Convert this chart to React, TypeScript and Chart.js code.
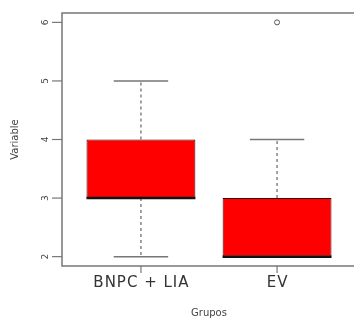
import React, { useEffect, useRef } from "react";
import { Chart, registerables } from "chart.js";

Chart.register(...registerables);

const categories = ["BNPC + LIA", "EV"];
const mins = [2, 2];
const q1s = [3, 2];
const medians = [3, 2];
const q3s = [4, 3];
const maxs = [5, 4];
const outliers = [{ group: 1, value: 6 }];
const yTicks = [2, 3, 4, 5, 6];
const xTitle = "Grupos";
const yTitle = "Variable";

const BOX_HALF = 0.4;
const CAP_HALF = 0.2;
const FONT = "'DejaVu Sans', sans-serif";

export default function App() {
  const ref = useRef<HTMLCanvasElement | null>(null);

  useEffect(() => {
    if (!ref.current) return;
    const pos = categories.map((_, i) => i + 1);

    const boxData = pos.map((x, i) => ({ x, y: [q1s[i], q3s[i]] }));
    const medianData: any[] = [];
    const capData: any[] = [];
    const whiskerData: any[] = [];
    pos.forEach((x, i) => {
      medianData.push({ x: x - BOX_HALF, y: medians[i] }, { x: x + BOX_HALF, y: medians[i] }, { x: x + 0.5, y: null });
      capData.push({ x: x - CAP_HALF, y: maxs[i] }, { x: x + CAP_HALF, y: maxs[i] }, { x: x + 0.3, y: null });
      capData.push({ x: x - CAP_HALF, y: mins[i] }, { x: x + CAP_HALF, y: mins[i] }, { x: x + 0.35, y: null });
      if (maxs[i] > q3s[i]) whiskerData.push({ x, y: q3s[i] }, { x, y: maxs[i] }, { x: x + 0.01, y: null });
      if (mins[i] < q1s[i]) whiskerData.push({ x, y: q1s[i] }, { x, y: mins[i] }, { x: x + 0.02, y: null });
    });
    const outlierData = outliers.map((o) => ({ x: o.group + 1, y: o.value }));

    const axesPlugin = {
      id: "rAxes",
      afterDraw(chart: any) {
        const { ctx, chartArea: a, scales } = chart;
        const xs = scales.x;
        const ys = scales.y;
        ctx.save();
        ctx.strokeStyle = "#777";
        ctx.lineWidth = 1.5;
        ctx.beginPath();
        ctx.moveTo(a.right, a.top);
        ctx.lineTo(a.left, a.top);
        ctx.lineTo(a.left, a.bottom);
        ctx.lineTo(a.right, a.bottom);
        ctx.stroke();
        ctx.lineWidth = 1.2;
        ctx.fillStyle = "#444";
        ctx.font = `9px ${FONT}`;
        ctx.textAlign = "center";
        ctx.textBaseline = "middle";
        yTicks.forEach((v) => {
          const py = ys.getPixelForValue(v);
          ctx.beginPath();
          ctx.moveTo(a.left - 10, py);
          ctx.lineTo(a.left, py);
          ctx.stroke();
          ctx.save();
          ctx.translate(a.left - 16, py);
          ctx.rotate(-Math.PI / 2);
          ctx.fillText(String(v), 0, 0);
          ctx.restore();
        });
        ctx.fillStyle = "#333";
        ctx.font = `15px ${FONT}`;
        (ctx as any).letterSpacing = "1px";
        categories.forEach((c, i) => {
          const px = xs.getPixelForValue(i + 1);
          ctx.beginPath();
          ctx.moveTo(px, a.bottom);
          ctx.lineTo(px, a.bottom + 7);
          ctx.stroke();
          ctx.fillText(c, px + 0.5, a.bottom + 17);
        });
        (ctx as any).letterSpacing = "0px";
        ctx.font = `10px ${FONT}`;
        ctx.fillStyle = "#444";
        ctx.fillText(xTitle, (a.left + a.right) / 2, a.bottom + 47);
        ctx.save();
        ctx.translate(15, (a.top + a.bottom) / 2);
        ctx.rotate(-Math.PI / 2);
        ctx.fillText(yTitle, 0, 0);
        ctx.restore();
        ctx.restore();
      },
    };

    const chart = new Chart(ref.current, {
      type: "bar",
      data: {
        datasets: [
          {
            type: "line",
            data: medianData,
            borderColor: "#111",
            borderWidth: 2.5,
            pointRadius: 0,
            spanGaps: false,
            order: 1,
          } as any,
          {
            type: "scatter",
            data: outlierData,
            pointStyle: "circle",
            pointRadius: 2.5,
            pointBackgroundColor: "rgba(0,0,0,0)",
            pointBorderColor: "#555",
            pointBorderWidth: 1,
            order: 2,
          } as any,
          {
            type: "line",
            data: capData,
            borderColor: "#777",
            borderWidth: 1.5,
            pointRadius: 0,
            spanGaps: false,
            order: 3,
          } as any,
          {
            type: "line",
            data: whiskerData,
            borderColor: "#666",
            borderWidth: 1.2,
            borderDash: [3, 3],
            pointRadius: 0,
            spanGaps: false,
            order: 4,
          } as any,
          {
            type: "bar",
            data: boxData,
            backgroundColor: "#ff0000",
            borderColor: "#3a0000",
            borderWidth: 1,
            borderSkipped: false,
            barPercentage: BOX_HALF * 2,
            categoryPercentage: 1,
            order: 5,
          } as any,
        ],
      },
      options: {
        animation: false,
        responsive: false,
        layout: { padding: { left: 62, top: 13, right: 14, bottom: 54 } },
        plugins: { legend: { display: false }, tooltip: { enabled: false } },
        scales: {
          x: {
            type: "linear",
            min: 0.42,
            max: 2.58,
            offset: false,
            display: false,
            afterBuildTicks: (scale: any) => {
              scale.ticks = categories.map((_, i) => ({ value: i + 1 }));
            },
          },
          y: { type: "linear", min: 1.84, max: 6.16, beginAtZero: false, display: false },
        },
      },
      plugins: [axesPlugin],
    });
    return () => chart.destroy();
  }, []);

  return (
    <div style={{ position: "fixed", left: 0, top: 0, width: 354, height: 320, overflow: "hidden", background: "#fff" }}>
      <canvas ref={ref} width={370} height={320} style={{ display: "block" }} />
    </div>
  );
}
